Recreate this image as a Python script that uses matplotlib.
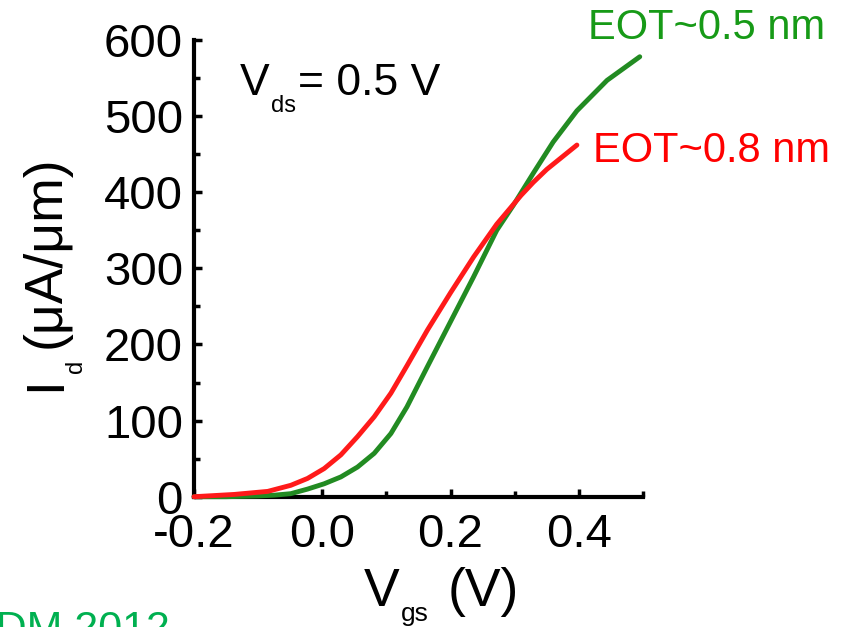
import matplotlib
matplotlib.use("Agg")
import matplotlib.pyplot as plt
from matplotlib.ticker import MultipleLocator
from matplotlib.transforms import IdentityTransform

plt.rcParams["font.family"] = ["Liberation Sans", "DejaVu Sans"]

# Transfer characteristics at Vds = 0.5 V
vgs_05 = [-0.200, -0.150, -0.100, -0.075, -0.049, -0.023, 0.003, 0.029, 0.055, 0.081,
          0.107, 0.132, 0.164, 0.200, 0.236, 0.272, 0.298, 0.329, 0.360, 0.397,
          0.444, 0.495]
id_05 = [0, 0, 1, 2, 4, 10, 17, 26, 39, 57,
         83, 118, 171, 230, 289, 350, 383, 425, 466, 507,
         547, 578]

vgs_08 = [-0.200, -0.137, -0.085, -0.049, -0.023, 0.003, 0.029, 0.055, 0.081, 0.107,
          0.132, 0.164, 0.200, 0.236, 0.272, 0.310, 0.329, 0.350, 0.397]
id_08 = [0, 3, 7, 15, 24, 37, 55, 79, 105, 136,
         172, 219, 268, 315, 358, 396, 413, 430, 462]

xticks = [-0.2, 0.0, 0.2, 0.4]
xtick_labels = ["-0.2", "0.0", "0.2", "0.4"]
yticks = [0, 100, 200, 300, 400, 500, 600]
ytick_labels = ["0", "100", "200", "300", "400", "500", "600"]

green_line = "#228b22"
green_text = "#179a17"
red_line = "#ff1a1a"

fig = plt.figure(figsize=(8.55, 6.27), dpi=100)
ax = fig.add_axes([0.2269, 0.2078, 0.5251, 0.7284])

ax.plot(vgs_05, id_05, color=green_line, lw=3.5, solid_capstyle="round",
        solid_joinstyle="round", zorder=3, clip_on=False)
ax.plot(vgs_08, id_08, color=red_line, lw=3.5, solid_capstyle="round",
        solid_joinstyle="round", zorder=4, clip_on=False)

ax.set_xlim(-0.2, 0.5)
ax.set_ylim(0, 600)
for side in ("top", "right"):
    ax.spines[side].set_visible(False)
for side in ("left", "bottom"):
    ax.spines[side].set_linewidth(3)
    ax.spines[side].set_capstyle("projecting")

ax.set_xticks(xticks)
ax.set_xticklabels(xtick_labels)
ax.set_yticks(yticks)
ax.set_yticklabels(ytick_labels)
ax.xaxis.set_minor_locator(MultipleLocator(0.1))
ax.yaxis.set_minor_locator(MultipleLocator(50))

ax.tick_params(which="major", direction="in", length=6, width=2.5, labelsize=34)
ax.tick_params(which="minor", direction="in", length=4, width=2.5)
ax.tick_params(axis="x", which="major", pad=12)
ax.tick_params(axis="y", which="major", pad=8)
ax.tick_params(top=False, right=False, which="both")

renderer = fig.canvas.get_renderer()


def compose(pieces, x0, y0, rotation=0, color="black"):
    """Lay out text runs one after another in pixel coordinates.

    Each run is (text, fontsize, drop_px, gap_px); drop lowers a run
    below the main baseline, as for a subscript.
    """
    pos = 0.0
    for text, size, drop, gap in pieces:
        pos += gap
        if rotation == 0:
            x, y = x0 + pos, y0 - drop
        else:
            x, y = x0 + drop, y0 + pos
        t = fig.text(x, y, text, fontsize=size, color=color,
                     transform=IdentityTransform(), rotation=rotation,
                     rotation_mode="anchor", ha="left", va="baseline")
        bb = t.get_window_extent(renderer)
        pos += bb.width if rotation == 0 else bb.height


H = 627
# Vds annotation inside the axes
compose([("V", 32, 0, 0), ("ds", 17, 17, 1), ("= 0.5 V", 32, 0, 2)], 240, H - 95)
# x-axis label
compose([("V", 38.5, 0, 0), ("gs", 19, 15, 1), ("(V)", 38.5, 0, 19)], 364, H - 606)
# y-axis label (rotated)
compose([("I", 38.5, 0, 0), ("d", 17, 22, 3), ("(μA/μm)", 38.5, 0, 12)], 60, H - 391,
        rotation=90)

ax.text(0.4145, 601, "EOT~0.5 nm", fontsize=30, color=green_text,
        va="baseline", ha="left", clip_on=False)
ax.text(0.422, 440, "EOT~0.8 nm", fontsize=30, color="#ff0000",
        va="baseline", ha="left", clip_on=False)

fig.text(170 / 855, 17 / 627, "IEDM 2012", fontsize=31, color="#00b050",
         ha="right", va="top")

fig.savefig("out.png", dpi=100)
